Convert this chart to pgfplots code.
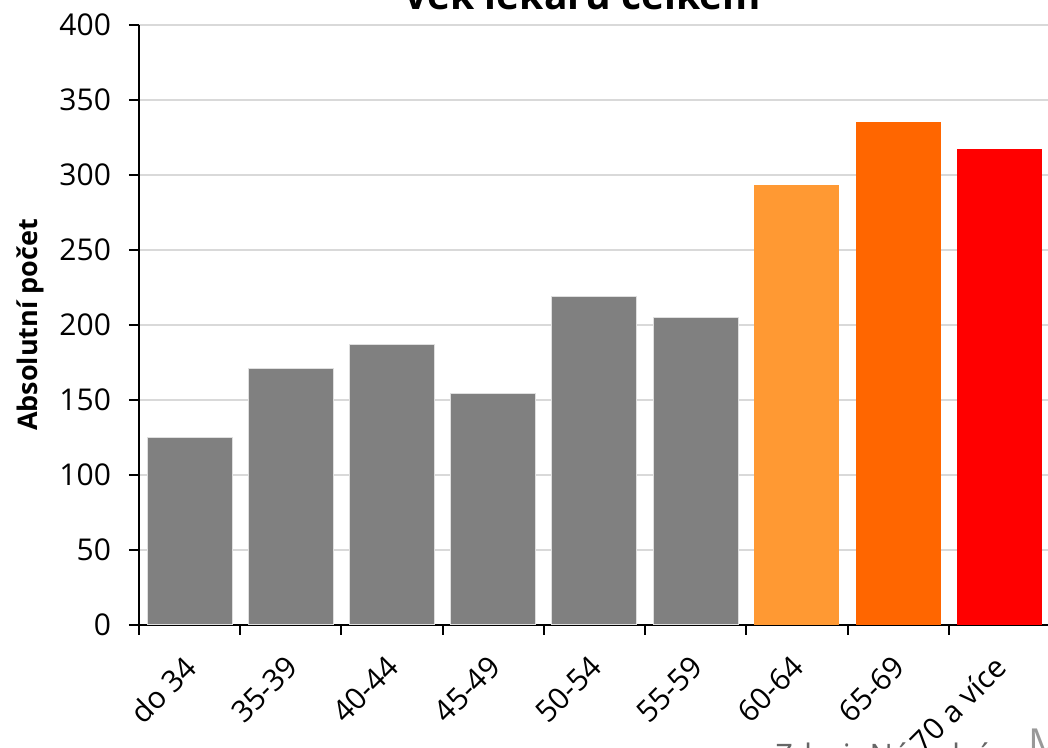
\documentclass[border=0pt]{standalone}
\usepackage{fontspec}
\setmainfont{Open Sans}
\usepackage{pgfplots}
\pgfplotsset{compat=1.18}
\definecolor{barGray}{HTML}{808080}
\definecolor{barOrL}{HTML}{FF9933}
\definecolor{barOr}{HTML}{FF6600}
\definecolor{barRed}{HTML}{FF0000}
\definecolor{gridGray}{HTML}{D9D9D9}
\begin{document}
\begin{tikzpicture}
\begin{axis}[
  at={(0,0)}, anchor=south west,
  scale only axis,
  width=455.5pt, height=300pt,
  xmin=-0.5, xmax=8.5,
  ymin=0, ymax=400,
  ytick={0,50,...,400},
  xtick={0,...,8},
  xticklabels={do 34,35-39,40-44,45-49,50-54,55-59,60-64,65-69,70 a více},
  minor xtick={-0.5,0.5,...,8.5},
  major x tick style={draw=none},
  axis x line*=bottom,
  axis y line*=left,
  axis line style={black, line width=1pt, -},
  tick align=outside,
  tick style={black, line width=1pt},
  major tick length=5pt,
  minor tick length=5pt,
  ymajorgrids,
  grid style={gridGray, line width=1pt},
  /pgf/number format/assume math mode=true,
  tick label style={font=\fontsize{15}{17}\selectfont},
  yticklabel style={xshift=-5.5pt},
  xticklabel style={rotate=45, anchor=east, xshift=-5.5pt, yshift=-10pt},
  ylabel={Absolutní počet},
  every axis y label/.style={at={(axis description cs:-0.1196,0.5)}, rotate=90, anchor=center, font=\fontsize{13.5}{16}\selectfont\bfseries},
  ybar, bar width=42.5pt, bar shift=0pt,
  clip=false,
]
\addplot[fill=barGray, draw=white!75!gray, line width=0.5pt] coordinates {(0,125) (1,171) (2,187) (3,154) (4,219) (5,205)};
\addplot[fill=barOrL, draw=none] coordinates {(6,293)};
\addplot[fill=barOr, draw=none] coordinates {(7,335)};
\addplot[fill=barRed, draw=none] coordinates {(8,317)};
\end{axis}
\node[anchor=base, font=\fontsize{19.5}{22}\selectfont\bfseries] at (221.5pt,307.5pt) {Věk lékařů celkem};
\node[anchor=base west, inner sep=0pt, font=\fontsize{15.5}{18}\selectfont, text=black!60] at (318pt,-70.6pt) {Zdroj: Národní};
\node[anchor=base west, inner sep=0pt, font=\fontsize{20}{22}\selectfont, text=black!40] at (444.5pt,-66.5pt) {M};
\pgfresetboundingbox
\useasboundingbox (-69.5pt,-61.5pt) rectangle (454.5pt,312.5pt);
\end{tikzpicture}
\end{document}
